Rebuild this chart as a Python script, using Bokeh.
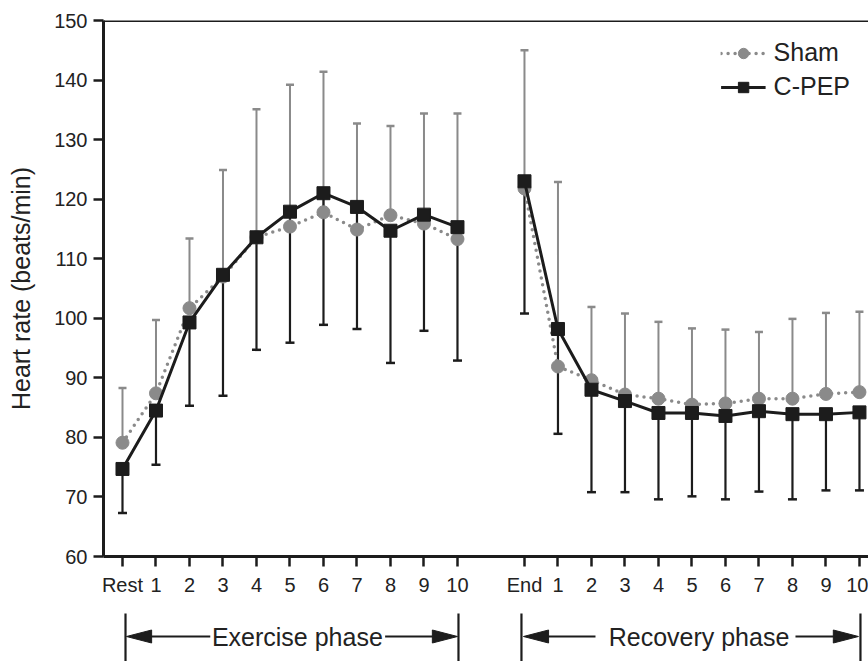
from bokeh.plotting import figure
from bokeh.models import Range1d, FixedTicker, Span, Legend, LegendItem
from bokeh.layouts import column
from bokeh.embed import file_html
from bokeh.resources import INLINE
from bokeh.core.properties import value

# ---------------- data ----------------
exercise_labels = ["Rest", "1", "2", "3", "4", "5", "6", "7", "8", "9", "10"]
recovery_labels = ["End", "1", "2", "3", "4", "5", "6", "7", "8", "9", "10"]

sham_ex_mean = [79.1, 87.4, 101.7, 107.0, 113.6, 115.4, 117.8, 114.9, 117.3, 115.9, 113.3]
sham_ex_upper = [88.3, 99.7, 113.4, 124.9, 135.1, 139.2, 141.4, 132.7, 132.3, 134.4, 134.4]
cpep_ex_mean = [74.7, 84.5, 99.3, 107.3, 113.6, 117.9, 121.0, 118.7, 114.7, 117.4, 115.3]
cpep_ex_lower = [67.3, 75.4, 85.3, 87.0, 94.7, 95.9, 98.9, 98.2, 92.5, 97.9, 92.9]

sham_rec_mean = [121.8, 91.9, 89.6, 87.2, 86.5, 85.5, 85.7, 86.5, 86.5, 87.3, 87.6]
sham_rec_upper = [145.0, 122.9, 101.9, 100.8, 99.4, 98.3, 98.1, 97.7, 99.9, 100.9, 101.1]
cpep_rec_mean = [123.0, 98.2, 88.0, 86.1, 84.1, 84.1, 83.6, 84.4, 83.9, 83.9, 84.2]
cpep_rec_lower = [100.8, 80.6, 70.8, 70.8, 69.6, 70.1, 69.6, 70.9, 69.6, 71.1, 71.1]

y_ticks = [60, 70, 80, 90, 100, 110, 120, 130, 140, 150]

# positions: exercise 0..10, one empty slot, recovery 12..22
x_ex = list(range(len(exercise_labels)))
x_rec = [len(exercise_labels) + 1 + i for i in range(len(recovery_labels))]

FONT = "Liberation Sans"
GRAY = "#8a8a8a"
BLACK = "#1c1c1c"

p = figure(width=868, height=600, x_range=Range1d(-0.567, 22.27), y_range=Range1d(60, 150),
           output_backend="svg", toolbar_location=None,
           min_border_left=103, min_border_right=0, min_border_top=20, min_border_bottom=44)
p.xgrid.visible = False
p.ygrid.visible = False
p.outline_line_color = None
p.background_fill_color = "white"
p.border_fill_color = "white"

# axes
p.xaxis.ticker = FixedTicker(ticks=x_ex + x_rec)
overrides = {}
for xv, lab in zip(x_ex, exercise_labels):
    overrides[xv] = lab
for xv, lab in zip(x_rec, recovery_labels):
    overrides[xv] = lab
p.xaxis.major_label_overrides = overrides
p.yaxis.ticker = FixedTicker(ticks=y_ticks)
for ax in (p.xaxis[0], p.yaxis[0]):
    ax.axis_line_width = 3
    ax.axis_line_color = BLACK
    ax.major_tick_line_width = 2.5
    ax.major_tick_line_color = BLACK
    ax.major_tick_out = 10
    ax.major_tick_in = 0
    ax.minor_tick_line_color = None
    ax.major_label_text_font = FONT
    ax.major_label_text_font_size = "20px"
    ax.major_label_text_color = "#222222"
p.xaxis.major_label_standoff = 7
p.yaxis.major_label_standoff = 6
p.yaxis.axis_label = "Heart rate (beats/min)"
p.yaxis.axis_label_text_font = FONT
p.yaxis.axis_label_text_font_size = "25px"
p.yaxis.axis_label_text_font_style = "normal"
p.yaxis.axis_label_text_color = "#222222"
p.yaxis.axis_label_standoff = 16

p.add_layout(Span(location=150, dimension="width", line_color=BLACK, line_width=3))

# error bars
for xs, m, up in ((x_ex, sham_ex_mean, sham_ex_upper), (x_rec, sham_rec_mean, sham_rec_upper)):
    p.segment(x0=xs, y0=m, x1=xs, y1=up, line_color=GRAY, line_width=2)
    p.scatter(x=xs, y=up, marker="dash", size=8, line_color=GRAY, line_width=2.5)
for xs, m, lo in ((x_ex, cpep_ex_mean, cpep_ex_lower), (x_rec, cpep_rec_mean, cpep_rec_lower)):
    p.segment(x0=xs, y0=m, x1=xs, y1=lo, line_color=BLACK, line_width=2.2)
    p.scatter(x=xs, y=lo, marker="dash", size=9, line_color=BLACK, line_width=2.5)

# Sham
sham_l1 = p.line(x_ex, sham_ex_mean, line_color=GRAY, line_width=3.5, line_dash="0 7", line_cap="round")
p.line(x_rec, sham_rec_mean, line_color=GRAY, line_width=3.5, line_dash="0 7", line_cap="round")
sham_pts = p.scatter(x_ex + x_rec, sham_ex_mean + sham_rec_mean, marker="circle", size=13,
                     fill_color=GRAY, line_color=GRAY)
# C-PEP
cpep_l1 = p.line(x_ex, cpep_ex_mean, line_color=BLACK, line_width=3)
p.line(x_rec, cpep_rec_mean, line_color=BLACK, line_width=3)
cpep_pts = p.scatter(x_ex + x_rec, cpep_ex_mean + cpep_rec_mean, marker="square", size=13,
                     fill_color=BLACK, line_color=BLACK)

legend = Legend(items=[LegendItem(label="Sham", renderers=[sham_l1, sham_pts]),
                       LegendItem(label="C-PEP", renderers=[cpep_l1, cpep_pts])],
                location="top_right", margin=18, padding=8, spacing=5,
                label_height=26, glyph_height=26, glyph_width=45, label_standoff=8,
                label_text_font=FONT, label_text_font_size="25px", label_text_color="#222222",
                border_line_color=None, background_fill_alpha=0)
p.add_layout(legend)

# ---------------- phase brackets ----------------
q = figure(width=868, height=61, x_range=p.x_range, y_range=Range1d(0, 61),
           output_backend="svg", toolbar_location=None, x_axis_type=None, y_axis_type=None,
           min_border_left=103, min_border_right=0, min_border_top=0, min_border_bottom=0)
q.xgrid.visible = False
q.ygrid.visible = False
q.outline_line_color = None
q.background_fill_color = "white"
q.border_fill_color = "white"

ay = 25      # arrow row (px from bottom)
head = 0.75  # arrow-head length in x units
hh = 6.5     # arrow-head half height (px)
brackets = [(0.09, 10.03), (11.91, 22.03)]
q.segment(x0=[b for pair in brackets for b in pair], y0=[-5] * 4,
          x1=[b for pair in brackets for b in pair], y1=[48] * 4, line_color=BLACK, line_width=2.2)
tips_left = [0.12, 11.97]
tips_right = [10.0, 21.97]
xs_heads, ys_heads = [], []
for t in tips_left:
    xs_heads.append([t, t + head, t + head])
    ys_heads.append([ay, ay + hh, ay - hh])
for t in tips_right:
    xs_heads.append([t, t - head, t - head])
    ys_heads.append([ay, ay + hh, ay - hh])
q.patches(xs_heads, ys_heads, fill_color=BLACK, line_color=BLACK, line_width=1)
q.segment(x0=[0.8, 7.84, 12.7, 20.09], y0=[ay] * 4, x1=[2.62, 9.3, 14.12, 21.3], y1=[ay] * 4,
          line_color=BLACK, line_width=2)
q.text(x=[5.22, 17.21], y=[ay, ay], text=["Exercise phase", "Recovery phase"],
       text_font=value(FONT), text_font_size="25px", text_align="center",
       text_baseline="middle", text_color="#222222")

layout = column(p, q, spacing=0)
open("out.html", "w").write(file_html(layout, INLINE))
